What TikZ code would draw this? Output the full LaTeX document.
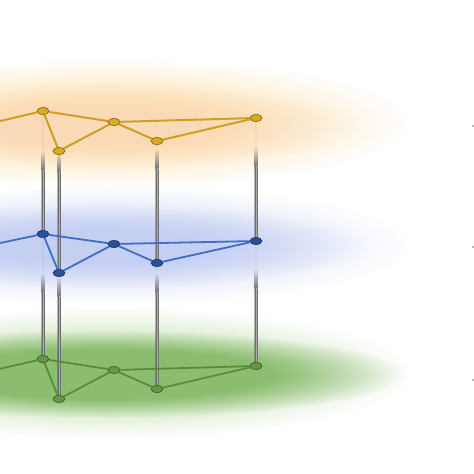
\documentclass[tikz,border=0pt]{standalone}
\usetikzlibrary{shapes.geometric,fadings,calc}
\definecolor{oFr}{RGB}{254,231,188}
\definecolor{oCo}{RGB}{248,210,178}
\definecolor{bFr}{RGB}{222,228,248}
\definecolor{bCo}{RGB}{193,204,242}
\definecolor{gFr}{RGB}{208,230,194}
\definecolor{gCo}{RGB}{132,185,102}
\definecolor{oEd}{RGB}{205,160,35}
\definecolor{oN}{RGB}{215,172,30}
\definecolor{oND}{RGB}{130,98,18}
\definecolor{bEd}{RGB}{62,110,200}
\definecolor{bN}{RGB}{42,80,150}
\definecolor{bND}{RGB}{22,45,95}
\definecolor{gEd}{RGB}{88,140,58}
\definecolor{gN}{RGB}{100,150,70}
\definecolor{gND}{RGB}{55,95,35}
\definecolor{vDk}{RGB}{90,90,90}
\definecolor{vMd}{RGB}{120,120,120}
\definecolor{vLt}{RGB}{170,170,170}
\definecolor{bgO}{RGB}{252,223,187}
\definecolor{bgOr}{RGB}{252,228,195}
\definecolor{bgB}{RGB}{213,220,246}
\definecolor{bgBr}{RGB}{222,229,248}
\pgfdeclareradialshading{fzA}{\pgfpointorigin}{color(0bp)=(white); color(10bp)=(white); color(25bp)=(black); color(50bp)=(black)}
\pgfdeclarefading{fadeA}{\pgfuseshading{fzA}}
\pgfdeclareradialshading{fzB}{\pgfpointorigin}{color(0bp)=(white); color(14bp)=(white); color(25bp)=(black); color(50bp)=(black)}
\pgfdeclarefading{fadeB}{\pgfuseshading{fzB}}
\tikzset{
  nodebase/.style={ellipse, minimum width=12pt, minimum height=7pt, inner sep=0pt, line width=0.6pt},
  onode/.style={nodebase, fill=oN, draw=oND},
  bnode/.style={nodebase, fill=bN, draw=bND},
  gnode/.style={nodebase, fill=gN, draw=gND},
  oedge/.style={draw=oEd, line width=2pt},
  bedge/.style={draw=bEd, line width=1.8pt},
  gedge/.style={draw=gEd, line width=1.8pt},
  vshade/.style={left color=vDk, right color=vDk, middle color=vLt},
  edgemark/.style={fill=gray!55}
}
% #1 upper node, #2 lower node, #3 y where the connector starts to show, #4 background colour there
\newcommand\vconn[4]{%
  \fill[vMd, opacity=0.07] let \p1=(#1.center), \p2=(#2.center) in
    (\x2-1.3pt,\y1) rectangle (\x2+1.3pt,{-(#3)*1pt});
  \shade[top color=#4, bottom color=vMd] let \p2=(#2.center) in
    (\x2-1.4pt,{-(#3)*1pt}) rectangle (\x2+1.4pt,{-(#3+20)*1pt});
  \shade[vshade] let \p2=(#2.center) in
    (\x2-1.4pt,{-(#3+20)*1pt}) rectangle (\x2+1.4pt,\y2);
}
\begin{document}
\begin{tikzpicture}[x=1pt,y=-1pt]
\clip (0,0) rectangle (474,474);
\fill[white] (0,0) rectangle (474,474);
% named node positions (drawn later)
\node[nodebase] (oA) at (43,111) {};
\node[nodebase] (oB) at (59,151) {};
\node[nodebase] (oC) at (114,122) {};
\node[nodebase] (oD) at (157,141) {};
\node[nodebase] (oE) at (256,118) {};
\coordinate (oL) at (-20,125.7);
\node[nodebase] (bA) at (43,234) {};
\node[nodebase] (bB) at (59,273) {};
\node[nodebase] (bC) at (114,244) {};
\node[nodebase] (bD) at (157,263) {};
\node[nodebase] (bE) at (256,241) {};
\coordinate (bL) at (-20,247.2);
\node[nodebase] (gA) at (43,359) {};
\node[nodebase] (gB) at (59,399) {};
\node[nodebase] (gC) at (114,370) {};
\node[nodebase] (gD) at (157,389) {};
\node[nodebase] (gE) at (256,366) {};
\coordinate (gL) at (-20,373.3);
% glows
\fill[gFr, path fading=fadeA] (110,373) ellipse [x radius=302, y radius=66];
\fill[gCo, opacity=0.9, path fading=fadeB] (105,374) ellipse [x radius=300, y radius=44];
\fill[bFr, path fading=fadeA] (110,245) ellipse [x radius=300, y radius=60];
\fill[bCo, opacity=0.85, path fading=fadeA] (100,246) ellipse [x radius=265, y radius=42];
\fill[oFr, path fading=fadeA] (110,123) ellipse [x radius=300, y radius=64];
\fill[oCo, opacity=0.6, path fading=fadeA] (100,126) ellipse [x radius=260, y radius=42];
% vertical connectors
\vconn{oA}{bA}{150}{bgO}\vconn{oB}{bB}{152}{bgO}\vconn{oD}{bD}{148}{bgO}\vconn{oE}{bE}{146}{bgOr}
\vconn{bA}{gA}{272}{bgB}\vconn{bB}{gB}{276}{bgB}\vconn{bD}{gD}{272}{bgB}\vconn{bE}{gE}{268}{bgBr}
% layer edges
\draw[oedge] (oL) -- (oA);
\draw[oedge] (oA) -- (oB); \draw[oedge] (oA) -- (oC); \draw[oedge] (oB) -- (oC);
\draw[oedge] (oC) -- (oD); \draw[oedge] (oC) -- (oE); \draw[oedge] (oD) -- (oE);
\draw[bedge] (bL) -- (bA);
\draw[bedge] (bA) -- (bB); \draw[bedge] (bA) -- (bC); \draw[bedge] (bB) -- (bC);
\draw[bedge] (bC) -- (bD); \draw[bedge] (bC) -- (bE); \draw[bedge] (bD) -- (bE);
\draw[gedge] (gL) -- (gA);
\draw[gedge] (gA) -- (gB); \draw[gedge] (gA) -- (gC); \draw[gedge] (gB) -- (gC);
\draw[gedge] (gC) -- (gD); \draw[gedge] (gC) -- (gE); \draw[gedge] (gD) -- (gE);
% visible nodes
\foreach \n in {oA,oB,oC,oD,oE}{\node[onode] at (\n) {};}
\foreach \n in {bA,bB,bC,bD,bE}{\node[bnode] at (\n) {};}
\foreach \n in {gA,gB,gC,gD,gE}{\node[gnode] at (\n) {};}
% tiny marks at right edge
\fill[edgemark] (471.8,124.8) rectangle (474,126.8);
\fill[edgemark] (471.8,246) rectangle (474,248);
\fill[edgemark] (471.8,378.5) rectangle (474,380.5);
\end{tikzpicture}
\end{document}
